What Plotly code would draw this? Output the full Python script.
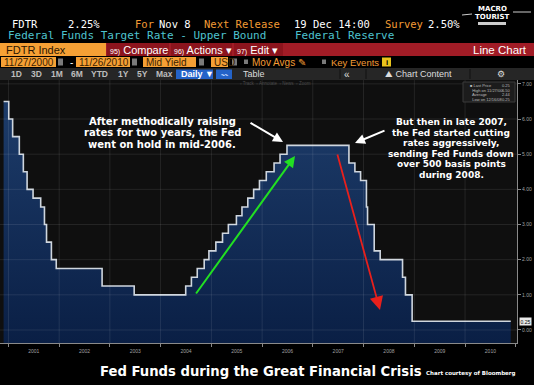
import plotly.graph_objects as go

# ---------------- data ----------------
change_dates = ["2000-11-27", "2001-01-03", "2001-01-31", "2001-03-20", "2001-04-18", "2001-05-15",
                "2001-06-27", "2001-08-21", "2001-09-17", "2001-10-02", "2001-11-06", "2001-12-11",
                "2002-11-06", "2003-06-25", "2004-06-30", "2004-08-10", "2004-09-21", "2004-11-10",
                "2004-12-14", "2005-02-02", "2005-03-22", "2005-05-03", "2005-06-30", "2005-08-09",
                "2005-09-20", "2005-11-01", "2005-12-13", "2006-01-31", "2006-03-28", "2006-05-10",
                "2006-06-29", "2007-09-18", "2007-10-31", "2007-12-11", "2008-01-22", "2008-01-30",
                "2008-03-18", "2008-04-30", "2008-10-08", "2008-10-29", "2008-12-16", "2010-11-26"]
fed_funds = [6.50, 6.00, 5.50, 5.00, 4.50, 4.00, 3.75, 3.50, 3.00, 2.50, 2.00, 1.75,
             1.25, 1.00, 1.25, 1.50, 1.75, 2.00, 2.25, 2.50, 2.75, 3.00, 3.25, 3.50,
             3.75, 4.00, 4.25, 4.50, 4.75, 5.00, 5.25, 4.75, 4.50, 4.25, 3.50, 3.00,
             2.25, 2.00, 1.50, 1.00, 0.25, 0.25]
year_ticks = [str(y) for y in range(2001, 2011)]
y_ticks = [0, 1, 2, 3, 4, 5, 6, 7]
legend_lines = ["Last Price", "High on 11/27/00", "Average", "Low on 12/16/08"]
legend_values = ["0.25", "6.50", "2.44", "0.25"]
last_price = 0.25

X_RANGE = ["2000-11-01", "2011-01-10"]
Y_RANGE = [-0.37, 7.11]

# ---------------- geometry helpers ----------------
W, H = 534, 385
ML, MR, MT, MB = 0, 17, 80, 42
PW, PH = W - ML - MR, H - MT - MB


def px(x):
    return (x - ML) / PW


def py(y):
    return (H - MB - y) / PH


fig = go.Figure()

# baseline for the area fill
fig.add_trace(go.Scatter(x=change_dates, y=[Y_RANGE[0]] * len(change_dates), mode="lines",
                         line=dict(width=0, shape="hv"), hoverinfo="skip", showlegend=False))
fig.add_trace(go.Scatter(
    x=change_dates, y=fed_funds, mode="lines", line=dict(color="#cfd6de", width=1.6, shape="hv"),
    fill="tonexty", fillgradient=dict(type="vertical", colorscale=[[0, "#0a1f45"], [1, "#1d3c6a"]]),
    showlegend=False))

shapes = []
annotations = []

# grid lines drawn above the fill
for yr in year_ticks:
    shapes.append(dict(type="line", xref="x", yref="paper", x0=f"{yr}-01-01", x1=f"{yr}-01-01",
                       y0=0, y1=1, line=dict(color="rgba(255,255,255,0.09)", width=1), layer="above"))
for v in y_ticks:
    shapes.append(dict(type="line", xref="paper", yref="y", x0=0, x1=1, y0=v, y1=v,
                       line=dict(color="rgba(255,255,255,0.09)", width=1), layer="above"))


def rect(x0, y0, x1, y1, color, line=None):
    d = dict(type="rect", xref="paper", yref="paper", x0=px(x0), x1=px(x1), y0=py(y1), y1=py(y0),
             fillcolor=color, line=dict(width=0) if line is None else line, layer="above")
    shapes.append(d)


def text(x, y, s, color="#ffffff", size=10, family="DejaVu Sans", anchor="left", bold=False):
    if bold:
        s = f"<b>{s}</b>"
    annotations.append(dict(xref="paper", yref="paper", x=px(x), y=py(y), text=s, showarrow=False,
                            xanchor=anchor, yanchor="middle", font=dict(color=color, size=size, family=family)))


ORANGE_T = "#f39c35"
CYAN = "#4ec3cf"
MONO = "DejaVu Sans Mono"
SANS = "Liberation Sans"

# header row 1
text(10, 24, "FDTR", size=10.5, family=MONO)
text(66, 24, "2.25%", size=10.5, family=MONO)
text(133, 24, "For", ORANGE_T, 10.5, MONO)
text(157, 24, "Nov 8", size=10.5, family=MONO)
text(202, 24, "Next Release", ORANGE_T, 10.5, MONO)
text(292, 24, "19 Dec 14:00", size=10.5, family=MONO)
text(383, 24, "Survey", ORANGE_T, 10.5, MONO)
text(426, 24, "2.50%", size=10.5, family=MONO)
# row 2
text(6, 36, "Federal Funds Target Rate - Upper Bound", CYAN, 11, MONO)
text(293, 36, "Federal Reserve", CYAN, 11, MONO)

# logo
text(492, 9, "MACRO", size=7, family="DejaVu Sans", anchor="center", bold=True)
text(492, 17, "TOURIST", size=7, family="DejaVu Sans", anchor="center", bold=True)
rect(478, 22, 506, 25, "#cccccc")
shapes.append(dict(type="line", xref="paper", yref="paper", x0=px(462), x1=px(472), y0=py(15), y1=py(14),
                   line=dict(color="#cccccc", width=1), layer="above"))
shapes.append(dict(type="line", xref="paper", yref="paper", x0=px(513), x1=px(531), y0=py(12), y1=py(12),
                   line=dict(color="#cccccc", width=1), layer="above"))

# row 3 red bar
rect(0, 43, 534, 56, "#a11c26")
rect(0, 43, 106, 56, "#f5a035")
rect(107, 43, 169, 56, "#8c141d")
rect(171, 43, 232, 56, "#8c141d")
rect(234, 43, 283, 56, "#8c141d")
text(4, 49.5, "FDTR Index", "#2a1500", 11, SANS)
text(108, 49.5, "<span style='font-size:7px'>95)</span> Compare", "#ffffff", 11, SANS)
text(172, 49.5, "<span style='font-size:7px'>96)</span> Actions ▾", "#ffffff", 11, SANS)
text(235, 49.5, "<span style='font-size:7px'>97)</span> Edit ▾", "#ffffff", 11, SANS)
text(529, 49.5, "Line Chart", "#ffffff", 11.5, SANS, anchor="right")

# row 4
for x0, x1, s in [(1, 56, "11/27/2000"), (76, 130, "11/26/2010"), (143, 196, "Mid Yield"), (211, 228, "USD")]:
    rect(x0, 57, x1, 67, "#f5a035")
    text(x0 + 1, 62, s, "#3d2200", 10, SANS)
for x0 in [58, 132, 199, 232]:
    rect(x0, 58.5, x0 + 5, 65.5, "#7a7a7a")
text(68, 62, "-", "#ffffff", 10, SANS)
rect(244, 59.5, 248, 64, "#7a7a7a")
text(250, 62, "Mov Avgs ✎", ORANGE_T, 10, SANS)
rect(322, 59.5, 326, 64, "#7a7a7a")
text(329, 62, "Key Events", ORANGE_T, 9.5, SANS)
rect(382, 57.5, 391, 66.5, "#e8c31c")
text(386.5, 62, "i", "#000000", 8, SANS, anchor="center", bold=True)

# row 5 toolbar
rect(0, 68, 534, 80, "#262626")
for x, s in [(9, "1D"), (29, "3D"), (49, "1M"), (69, "6M"), (89, "YTD"), (116, "1Y"), (135, "5Y"), (154, "Max")]:
    text(x, 74, s, "#bdbdbd", 8.5, SANS, bold=True)
rect(176, 69.5, 213, 79, "#2463c8")
text(179, 74, "Daily ▼", "#ffffff", 9, SANS, bold=True)
rect(216, 69.5, 232, 79, "#2463c8")
text(224, 74, "〰", "#bcd4ff", 7, SANS, anchor="center")
text(241, 74, "Table", "#dddddd", 9, SANS)
text(347, 74, "«", "#dddddd", 10, SANS, anchor="center")
text(383, 74, "⛰ Chart Content", "#dddddd", 9, SANS)
text(501, 74, "⚙", "#dddddd", 9, SANS, anchor="center")
for xs in [340, 366, 470]:
    shapes.append(dict(type="line", xref="paper", yref="paper", x0=px(xs), x1=px(xs), y0=py(69), y1=py(79),
                       line=dict(color="#111111", width=1), layer="above"))
text(275, 83.5, "▫ Track  ▫ Annotate  ▫ News  ▫ Zoom", "#4a4a4a", 4.5, SANS, anchor="center")

# legend box top right
rect(463, 82, 515, 102, "#1c1c1c", line=dict(color="#3a3a3a", width=1))
for i, (lab, val) in enumerate(zip(legend_lines, legend_values)):
    yy = 85.5 + i * 4.6
    text(468, yy, ("■ " if i == 0 else "  ") + lab, "#bbbbbb", 4, SANS)
    text(513, yy, val, "#bbbbbb", 4, SANS, anchor="right")

# last price label on the axis
annotations.append(dict(xref="paper", yref="y", x=px(519), y=last_price, text="0.25", showarrow=False,
                        xanchor="left", yanchor="middle", bgcolor="#e8e8e8",
                        font=dict(color="#000000", size=5, family=SANS), borderpad=0.5))

# commentary text
left_lines = ["After methodically raising", "rates for two years, the Fed", "went on hold in mid-2006."]
for i, s in enumerate(left_lines):
    text(162, 121 + i * 11.5, s, "#ffffff", 10, "DejaVu Sans", anchor="center", bold=True)
right_lines = ["But then in late 2007,", "the Fed started cutting", "rates aggressively,",
               "sending Fed Funds down", "over 500 basis points", "during 2008."]
for i, s in enumerate(right_lines):
    text(451, 122 + i * 10.6, s, "#ffffff", 9, "DejaVu Sans", anchor="center", bold=True)


# arrows (pixel positions converted into paper coords)
def arrow(x0, y0, x1, y1, color, width=2, size=1.0):
    annotations.append(dict(xref="paper", yref="paper", axref="pixel", ayref="pixel",
                            x=px(x1), y=py(y1), ax=x0 - x1, ay=y0 - y1, text="", showarrow=True,
                            arrowhead=2, arrowsize=size, arrowwidth=width, arrowcolor=color))


arrow(249, 122, 283, 142, "#ffffff", 2, 1.0)
arrow(386, 130, 355, 143, "#ffffff", 2, 1.0)
arrow(195, 295, 295, 156, "#22e022", 2, 1.1)
arrow(337, 153, 380, 310, "#e8201c", 1.8, 1.5)

# bottom caption
text(261, 371, "Fed Funds during the Great Financial Crisis", "#ffffff", 13.2, "DejaVu Sans", anchor="center", bold=True)
text(518, 373, "Chart courtesy of Bloomberg", "#ffffff", 5.5, "DejaVu Sans", anchor="right", bold=True)

fig.update_layout(
    width=W, height=H, autosize=False,
    margin=dict(l=ML, r=MR, t=MT, b=MB, pad=0),
    paper_bgcolor="#000000", plot_bgcolor="#0f0f0f",
    shapes=shapes, annotations=annotations, showlegend=False,
    xaxis=dict(range=X_RANGE, type="date", showgrid=False, zeroline=False,
               tick0="2001-01-01", dtick="M12", ticklabelmode="period", tickformat="%Y",
               ticks="outside", ticklen=3, tickcolor="#888888", showline=True, linecolor="#8a8a8a",
               tickfont=dict(size=5, color="#a0a0a0", family=SANS)),
    yaxis=dict(range=Y_RANGE, side="right", showgrid=False, zeroline=False, tickvals=y_ticks,
               tickformat=".2f", ticks="outside", ticklen=3, tickcolor="#888888",
               showline=True, linecolor="#8a8a8a",
               tickfont=dict(size=5, color="#a0a0a0", family=SANS)),
)

fig.write_html("out.html", config={"displayModeBar": False},
               post_script="document.body.style.margin='0';document.body.style.overflow='hidden';")
